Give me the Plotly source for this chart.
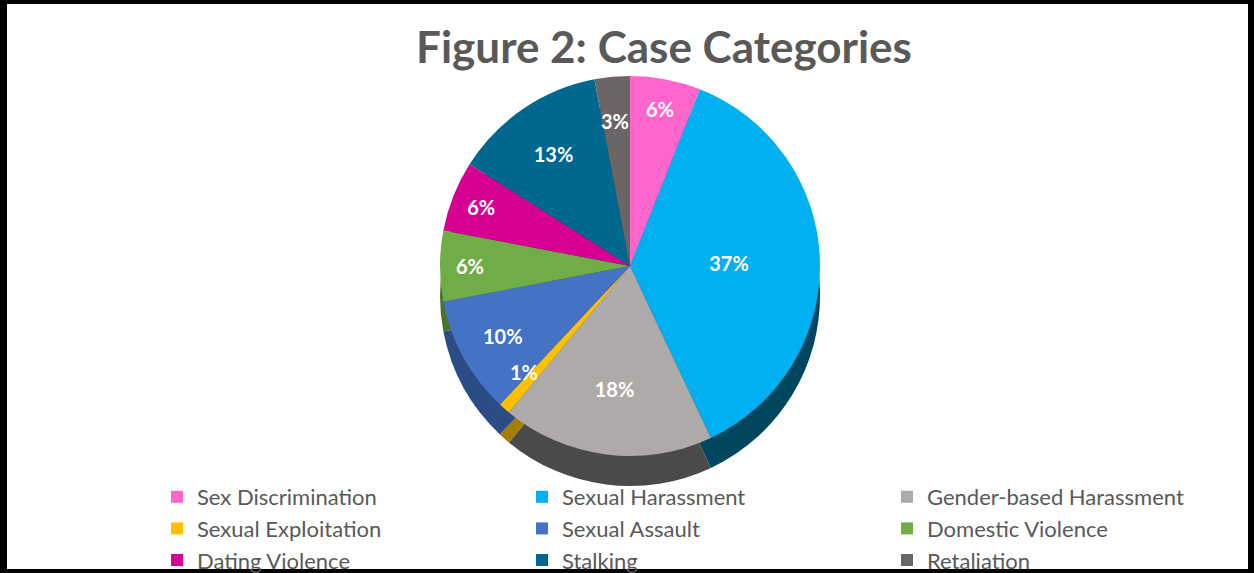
import math
import plotly.graph_objects as go

categories = ["Sex Discrimination", "Sexual Harassment", "Gender-based Harassment",
              "Sexual Exploitation", "Sexual Assault", "Domestic Violence",
              "Dating Violence", "Stalking", "Retaliation"]
percent_values = [6, 37, 18, 1, 10, 6, 6, 13, 3]
slice_colors = ["#FF66CC", "#00B0F0", "#AEAAAA", "#FFC000", "#4472C4",
                "#70AD47", "#D60093", "#00678F", "#6B6565"]
side_colors = ["#A8438A", "#00465F", "#4A4A4A", "#A57D00", "#2C4C86",
               "#4A7330", "#8C0060", "#00435D", "#474343"]

W, H = 1254, 573
fig = go.Figure()

cx, cy_top, r, depth = 630, 266, 190, 30


def dom(cy):
    return dict(x=[(cx - r) / W, (cx + r) / W],
                y=[1 - (cy + r) / H, 1 - (cy - r) / H])


# side (depth) of the pie: darker copy shifted downward
fig.add_trace(go.Pie(
    labels=[c + " (side)" for c in categories], values=percent_values,
    sort=False, direction="clockwise", rotation=0,
    marker=dict(colors=side_colors, line=dict(width=0)),
    textinfo="none", hoverinfo="skip", showlegend=False,
    domain=dom(cy_top + depth),
))

total = sum(percent_values)
small = [v / total < 0.05 for v in percent_values]
texts = ["" if s else f"{round(100 * v / total)}%" for v, s in zip(percent_values, small)]

fig.add_trace(go.Pie(
    labels=categories, values=percent_values,
    sort=False, direction="clockwise", rotation=0,
    marker=dict(colors=slice_colors, line=dict(width=0)),
    text=texts, texttemplate="%{text}", textposition="inside",
    insidetextorientation="horizontal",
    textfont=dict(family="Lato", size=20, color="white", weight="bold"),
    domain=dom(cy_top),
))

# labels for thin slices, placed at the slice's mid-angle
annotations = []
cum = 0
for v, s in zip(percent_values, small):
    mid = (cum + v / 2) / total * 2 * math.pi
    cum += v
    if not s:
        continue
    rr = 0.84 * r
    px = cx + rr * math.sin(mid)
    py = cy_top - rr * math.cos(mid)
    annotations.append(dict(x=px / W, y=1 - py / H, xref="paper", yref="paper",
                            text=f"<b>{round(100 * v / total)}%</b>", showarrow=False,
                            font=dict(family="Lato", size=20, color="white")))

# frame around the chart
frame = [(0, 0, 7, H), (W - 6, 0, W, H), (0, 0, W, 4), (0, H - 4, W, H)]
shapes = []
for x0, y0, x1, y1 in frame:
    shapes.append(dict(type="rect", xref="paper", yref="paper",
                       x0=x0 / W, x1=x1 / W, y0=1 - y1 / H, y1=1 - y0 / H,
                       fillcolor="black", line=dict(width=0), layer="above"))

fig.update_layout(
    width=W, height=H,
    margin=dict(l=0, r=0, t=0, b=0, autoexpand=False),
    paper_bgcolor="white", plot_bgcolor="white",
    title=dict(text="<b>Figure 2: Case Categories</b>",
               x=664 / W, xanchor="center", y=1 - 48 / H, yanchor="middle",
               font=dict(family="Lato", size=44, color="#595959")),
    legend=dict(orientation="h", x=157 / W, xanchor="left",
                y=1 - 476 / H, yanchor="top",
                entrywidth=320, entrywidthmode="pixels",
                font=dict(family="Lato", size=22, color="#595959"),
                bgcolor="rgba(0,0,0,0)", tracegroupgap=0),
    shapes=shapes,
    annotations=annotations,
)

fig.write_html("out.html", config={"displayModeBar": False},
               post_script="document.body.style.margin='0';")
